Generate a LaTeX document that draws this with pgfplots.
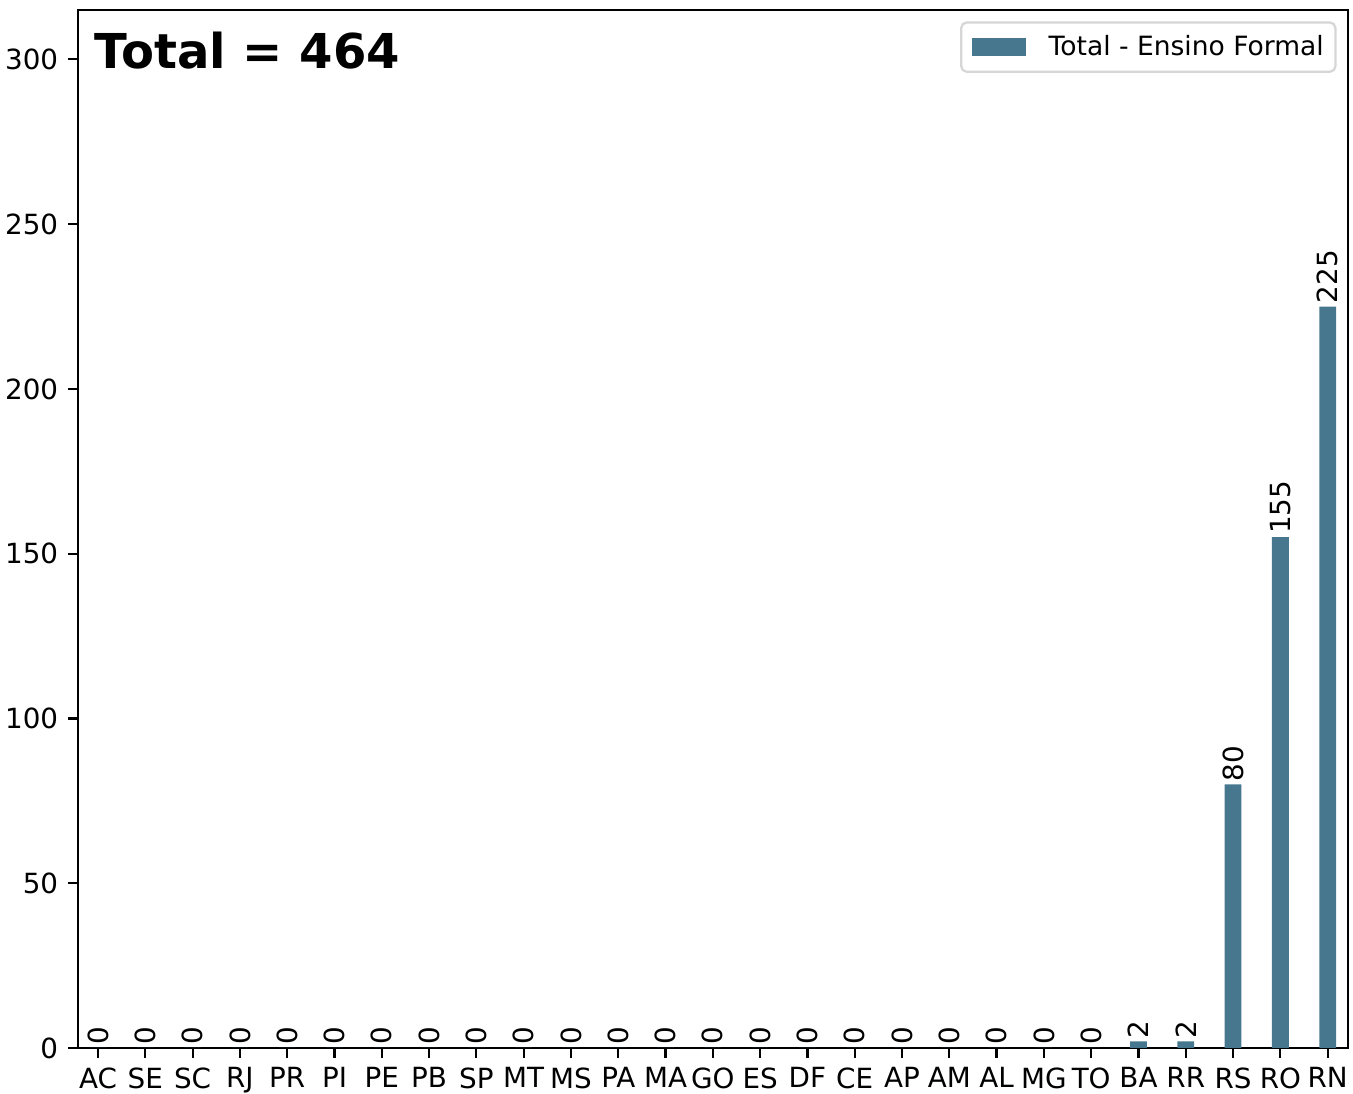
\documentclass[border=0pt]{standalone}
\usepackage{fontspec}
\setmainfont{DejaVu Sans}
\usepackage{pgfplots}
\pgfplotsset{compat=1.18}
\definecolor{barc}{RGB}{70,119,143}
\definecolor{legedge}{RGB}{214,214,214}
\begin{document}
\begin{tikzpicture}
\useasboundingbox (-27.97pt,-16.2pt) rectangle (459.11pt,377.28pt);
\begin{axis}[
 at={(0,0)}, anchor=south west,
 scale only axis, width=457.3pt, height=373.7pt,
 ybar, bar width=0.355,
 xmin=-0.43, xmax=26.43, ymin=0, ymax=315,
 xtick={0,...,26},
 xticklabels={AC,SE,SC,RJ,PR,PI,PE,PB,SP,MT,MS,PA,MA,GO,ES,DF,CE,AP,AM,AL,MG,TO,BA,RR,RS,RO,RN},
 ytick={0,50,...,300},
 tick align=outside, tick pos=left, major tick length=3.5pt,
 axis line style={line width=0.8pt},
 every tick/.style={line width=0.8pt, black},
 tick label style={font=\fontsize{10}{12}\selectfont},
 /pgf/number format/assume math mode=true,
 nodes near coords,
 every node near coord/.append style={rotate=90, anchor=west, font=\fontsize{10}{12}\selectfont, inner sep=1pt, black},
 legend image code/.code={\path[draw=none,fill=none] (-1.8pt,0pt) rectangle (25.5pt,0.1pt);\fill[#1, sharp corners] (0pt,-3.3pt) rectangle (19.5pt,3.3pt);},
 legend style={at={(0.991,0.989)}, anchor=north east, draw=legedge, rounded corners=2pt, line width=0.8pt,
   font=\fontsize{9.55}{11.5}\selectfont, inner xsep=2.2pt, inner ysep=2.5pt},
 legend cell align=left,
]
\addplot[fill=barc, draw=none] coordinates {
(0,0) (1,0) (2,0) (3,0) (4,0) (5,0) (6,0) (7,0) (8,0) (9,0) (10,0) (11,0) (12,0) (13,0)
(14,0) (15,0) (16,0) (17,0) (18,0) (19,0) (20,0) (21,0) (22,2) (23,2) (24,80) (25,155) (26,225)};
\addlegendentry{Total - Ensino Formal}
\node[anchor=base west, inner sep=0pt, font=\fontsize{17.3}{21}\selectfont\bfseries] at (rel axis cs:0.013,0.944) {Total = 464};
\end{axis}
\end{tikzpicture}
\end{document}
